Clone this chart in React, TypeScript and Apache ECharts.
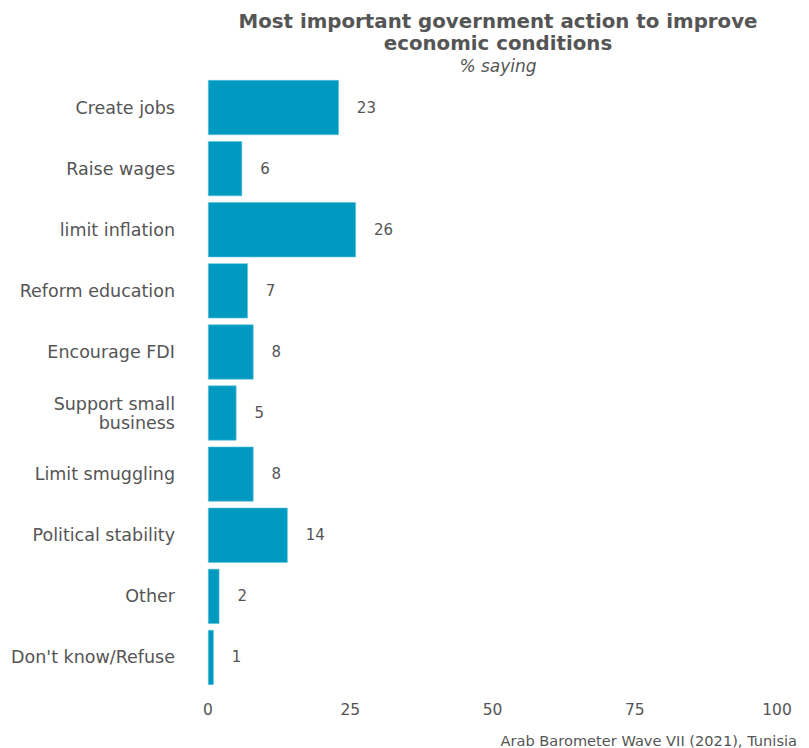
import React, { useEffect, useRef } from "react";
import * as echarts from "echarts";

const categories = [
  "Create jobs",
  "Raise wages",
  "limit inflation",
  "Reform education",
  "Encourage FDI",
  "Support small\nbusiness",
  "Limit smuggling",
  "Political stability",
  "Other",
  "Don't know/Refuse",
];
const values = [23, 6, 26, 7, 8, 5, 8, 14, 2, 1];
const xTicks = [0, 25, 50, 75, 100];

export default function App() {
  const ref = useRef<HTMLDivElement>(null);
  useEffect(() => {
    if (!ref.current) return;
    const chart = echarts.init(ref.current, null, { renderer: "svg" });
    const font = "'DejaVu Sans', Verdana, sans-serif";
    chart.setOption({
      animation: false,
      backgroundColor: "#ffffff",
      title: [
        {
          text: "Most important government action to improve\neconomic conditions",
          left: 493,
          top: 5,
          textAlign: "center",
          textStyle: { fontFamily: font, fontSize: 19.8, fontWeight: "bold", color: "#555555", lineHeight: 22 },
        },
        {
          text: "% saying",
          left: 493,
          top: 52,
          textAlign: "center",
          textStyle: { fontFamily: font, fontSize: 17, fontStyle: "italic", fontWeight: "normal", color: "#555555", lineHeight: 17 },
        },
        {
          text: "Arab Barometer Wave VII (2021), Tunisia",
          right: 7,
          top: 728,
          textStyle: { fontFamily: font, fontSize: 14.6, fontWeight: "normal", color: "#555555", lineHeight: 15 },
        },
      ],
      grid: { left: 208, right: 32, top: 77, height: 611, containLabel: false },
      xAxis: {
        type: "value",
        min: xTicks[0],
        max: xTicks[xTicks.length - 1],
        interval: 25,
        axisLine: { show: false },
        axisTick: { show: false },
        splitLine: { show: false },
        axisLabel: { fontFamily: font, fontSize: 15.5, color: "#555555", margin: 14 },
      },
      yAxis: {
        type: "category",
        data: categories,
        inverse: true,
        axisLine: { show: false },
        axisTick: { show: false },
        axisLabel: { fontFamily: font, fontSize: 17.5, color: "#555555", margin: 33, lineHeight: 19, align: "right" },
      },
      series: [
        {
          type: "bar",
          data: values,
          barCategoryGap: "10%",
          itemStyle: { color: "#0099c0", borderColor: "#5cc3dd", borderWidth: 0.6 },
          label: {
            show: true,
            position: "right",
            distance: 18,
            fontFamily: font,
            fontSize: 15,
            color: "#555555",
          },
        },
      ],
    });
    return () => chart.dispose();
  }, []);
  return <div ref={ref} style={{ width: 809, height: 748, position: "absolute", left: 0, top: 0 }} />;
}
